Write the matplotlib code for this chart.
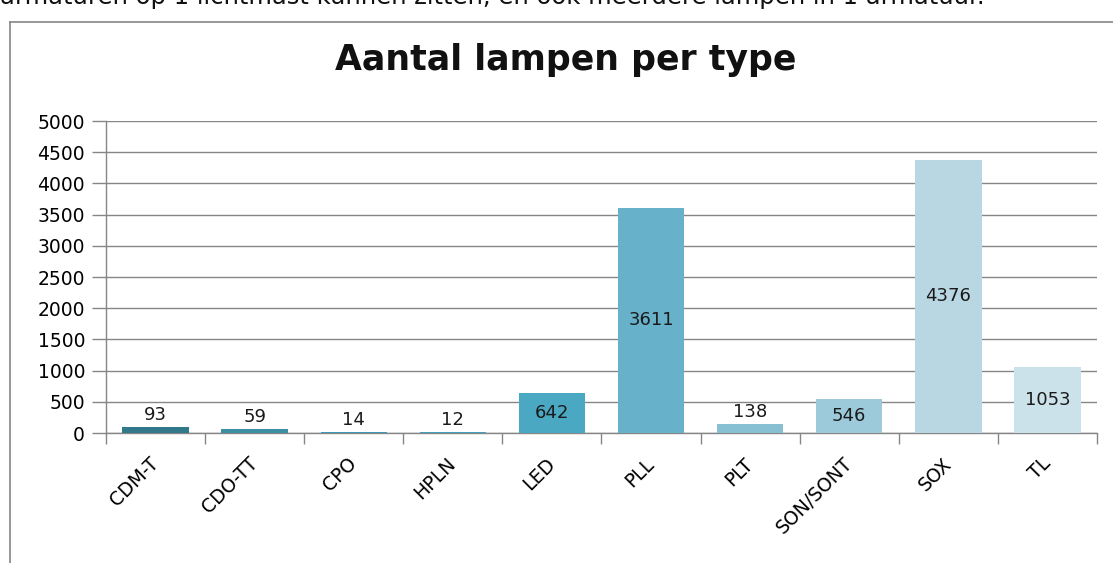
import matplotlib
matplotlib.use('Agg')
import matplotlib.pyplot as plt
from matplotlib.lines import Line2D

plt.rcParams['font.family'] = ['DejaVu Sans']

types = ['CDM-T', 'CDO-TT', 'CPO', 'HPLN', 'LED', 'PLL', 'PLT', 'SON/SONT', 'SOX', 'TL']
counts = [93, 59, 14, 12, 642, 3611, 138, 546, 4376, 1053]
colors = ['#31788A', '#3B8EA3', '#3E9AB4', '#43A0BA', '#4BA8C3',
          '#67B1CA', '#88C0D3', '#9DCADB', '#B8D7E2', '#CCE2EA']
yticks = list(range(0, 5001, 500))

fig = plt.figure(figsize=(11.13, 5.63), dpi=100)
ax = fig.add_axes([0.0952, 0.2309, 0.8904, 0.5541])

x = range(len(types))
ax.bar(x, counts, width=0.67, color=colors, zorder=3)

# value labels: centred in the bar, above it when the bar is too short
for i, v in enumerate(counts):
    if v < 300:
        ax.text(i, v + 50, str(v), ha='center', va='bottom', fontsize=13, color='#1a1a1a', zorder=4)
    else:
        ax.text(i, v / 2, str(v), ha='center', va='center', fontsize=13, color='#1a1a1a', zorder=4)

ax.set_xlim(-0.5, len(types) - 0.5)
ax.set_ylim(0, 5000)
ax.set_yticks(yticks)
ax.tick_params(axis='y', labelsize=13.5, length=10, width=1, color='#868686', pad=5)
ax.grid(axis='y', color='#868686', linewidth=1, zorder=0)

ax.set_xticks(list(x))
ax.set_xticklabels(types, rotation=45, ha='right', va='center', rotation_mode='anchor', fontsize=13.5)
ax.tick_params(axis='x', which='major', length=0, pad=20)
ax.set_xticks([i - 0.5 for i in range(len(types) + 1)], minor=True)
ax.tick_params(axis='x', which='minor', length=8, width=1, color='#868686')

for s in ['top', 'right']:
    ax.spines[s].set_visible(False)
for s in ['left', 'bottom']:
    ax.spines[s].set_color('#868686')
    ax.spines[s].set_linewidth(1)

fig.text(566 / 1113, 1 - 60 / 563, 'Aantal lampen per type', ha='center', va='center',
         fontsize=25, fontweight='bold', color='#111111')

# chart frame and the cut-off text above it
fig.add_artist(Line2D([10 / 1113, 10 / 1113], [0, 1 - 22 / 563], color='#868686', linewidth=1.2))
fig.add_artist(Line2D([10 / 1113, 1], [1 - 22 / 563, 1 - 22 / 563], color='#868686', linewidth=1.2))
fig.text(0.0, 1 - 4 / 563, 'armaturen op 1 lichtmast kunnen zitten, en ook meerdere lampen in 1 armatuur.',
         ha='left', va='baseline', fontsize=17.5, color='#111111')

fig.savefig('out.png', dpi=100)
